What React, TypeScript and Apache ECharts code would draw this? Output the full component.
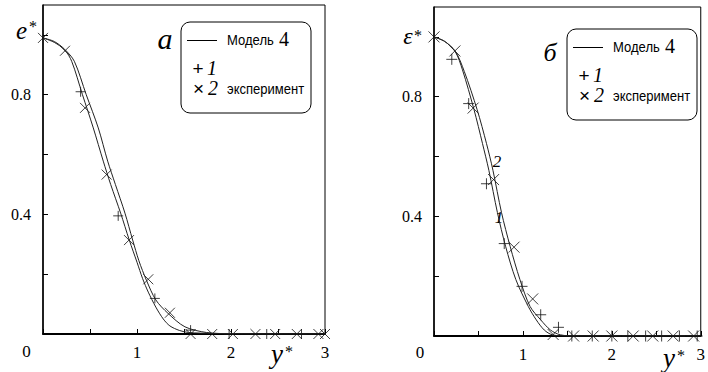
import React, { useEffect, useRef } from "react";
import * as echarts from "echarts";

// ---- Panel a (left) ----
const leftModel1X = [0, 0.12, 0.23, 0.305, 0.42, 0.535, 0.641, 0.72, 0.826, 0.918, 1.0, 1.06, 1.12, 1.2, 1.28, 1.35, 1.45, 1.55, 1.8, 2.2, 3.0];
const leftModel1Y = [0.99, 0.975, 0.95, 0.912, 0.8, 0.689, 0.578, 0.5, 0.404, 0.314, 0.24, 0.185, 0.14, 0.09, 0.05, 0.027, 0.012, 0.005, 0.002, 0, 0];
const leftModel2X = [0, 0.12, 0.23, 0.333, 0.46, 0.588, 0.688, 0.77, 0.872, 0.954, 1.02, 1.1, 1.2, 1.33, 1.51, 1.74, 2.0, 3.0];
const leftModel2Y = [0.99, 0.978, 0.952, 0.912, 0.8, 0.689, 0.578, 0.5, 0.404, 0.314, 0.245, 0.18, 0.114, 0.069, 0.024, 0.005, 0.001, 0];
const leftPlusX = [0.4, 0.8, 1.19, 1.57, 1.98, 2.38, 2.75];
const leftPlusY = [0.81, 0.395, 0.119, 0.013, 0, 0, 0];
const leftCrossX = [0, 0.234, 0.447, 0.677, 0.915, 1.12, 1.35, 1.57, 1.8, 2.02, 2.26, 2.47, 2.7, 2.93, 3.0];
const leftCrossY = [0.99, 0.947, 0.756, 0.533, 0.314, 0.183, 0.071, 0, 0, 0, 0, 0, 0, 0, 0];

// ---- Panel б (right) ----
const rightModel1X = [0, 0.12, 0.24, 0.32, 0.45, 0.545, 0.617, 0.713, 0.805, 0.92, 1.06, 1.15, 1.24, 1.33, 1.5, 3.0];
const rightModel1Y = [1.0, 0.985, 0.95, 0.89, 0.757, 0.644, 0.554, 0.413, 0.3, 0.189, 0.099, 0.054, 0.02, 0.004, 0, 0];
const rightModel2X = [0, 0.12, 0.24, 0.34, 0.485, 0.59, 0.663, 0.759, 0.856, 0.966, 1.08, 1.2, 1.31, 1.42, 1.6, 3.0];
const rightModel2Y = [1.0, 0.985, 0.952, 0.885, 0.757, 0.644, 0.554, 0.413, 0.3, 0.189, 0.099, 0.054, 0.02, 0.004, 0, 0];
const rightPlusX = [0.2, 0.39, 0.59, 0.79, 0.99, 1.2, 1.4, 1.55, 1.78, 2.0, 2.18, 2.38, 2.56, 2.76, 2.96];
const rightPlusY = [0.925, 0.777, 0.509, 0.309, 0.166, 0.071, 0.029, 0, 0, 0, 0, 0, 0, 0, 0];
const rightCrossX = [0, 0.235, 0.44, 0.67, 0.9, 1.11, 1.34, 1.57, 1.79, 2.0, 2.24, 2.46, 2.69, 2.92];
const rightCrossY = [1.0, 0.953, 0.762, 0.523, 0.297, 0.124, 0.005, 0, 0, 0, 0, 0, 0, 0];

const xTickLabels = ["1", "2", "3"];
const yTickLabels = ["0.4", "0.8"];

const SERIF = "Liberation Serif";
const SANS = "Liberation Sans";

const zip = (xs: number[], ys: number[]) => xs.map((x, i) => [x, ys[i]]);

const PLUS = "path://M5,0L5,10M0,5L10,5";
const CROSS = "path://M0,0L10,10M10,0L0,10";

function legendGroup(x: number, y: number) {
  return {
    type: "group",
    x,
    y,
    children: [
      { type: "rect", shape: { x: 0, y: 0, width: 130, height: 91, r: 9 }, style: { fill: "#fff", stroke: "#000", lineWidth: 1 } },
      { type: "line", shape: { x1: 6, y1: 18.5, x2: 36, y2: 18.5 }, style: { stroke: "#000", lineWidth: 1 } },
      { type: "text", x: 46, y: 18, scaleX: 0.87, style: { text: "Модель", fontFamily: SANS, fontSize: 15, fill: "#000", align: "left", verticalAlign: "middle" } },
      { type: "text", x: 98, y: 17, style: { text: "4", fontFamily: SERIF, fontSize: 20, fill: "#000", align: "left", verticalAlign: "middle" } },
      { type: "text", x: 17, y: 46, style: { text: "+", fontFamily: SANS, fontSize: 19, fill: "#000", align: "center", verticalAlign: "middle" } },
      { type: "text", x: 26, y: 46, style: { text: "1", fontFamily: SERIF, fontStyle: "italic", fontSize: 20, fill: "#000", align: "left", verticalAlign: "middle" } },
      { type: "text", x: 17.5, y: 66, style: { text: "×", fontFamily: SANS, fontSize: 19, fill: "#000", align: "center", verticalAlign: "middle" } },
      { type: "text", x: 27, y: 66, style: { text: "2", fontFamily: SERIF, fontStyle: "italic", fontSize: 20, fill: "#000", align: "left", verticalAlign: "middle" } },
      { type: "text", x: 46, y: 67, scaleX: 0.87, style: { text: "эксперимент", fontFamily: SANS, fontSize: 15, fill: "#000", align: "left", verticalAlign: "middle" } },
    ],
  };
}

function txt(text: string, x: number, y: number, size: number, opts: any = {}) {
  return {
    type: "text",
    x,
    y,
    style: {
      text,
      fontFamily: SERIF,
      fontSize: size,
      fill: "#000",
      align: opts.align || "left",
      verticalAlign: opts.va || "middle",
      fontStyle: opts.italic ? "italic" : "normal",
    },
  };
}

export default function App() {
  const ref = useRef<HTMLDivElement>(null);
  useEffect(() => {
    if (!ref.current) return;
    const chart = echarts.init(ref.current, undefined, { renderer: "svg" });
    const xAxisBase = (gridIndex: number) => ({
      type: "value",
      gridIndex,
      min: 0,
      max: 3,
      interval: 0.5,
      axisLine: { show: true, lineStyle: { color: "#000", width: 2 } },
      axisTick: { show: true, inside: true, length: 5, lineStyle: { color: "#000", width: 1 } },
      axisLabel: {
        show: true,
        margin: 10,
        fontFamily: SERIF,
        fontSize: 17,
        color: "#000",
        showMaxLabel: true,
        formatter: (v: number) => {
          const s = String(v);
          return xTickLabels.includes(s) ? s : "";
        },
      },
      splitLine: { show: false },
    });
    const yAxisBase = (gridIndex: number) => ({
      type: "value",
      gridIndex,
      min: 0,
      max: 1.1,
      interval: 0.2,
      axisLine: { show: true, lineStyle: { color: "#000", width: 1.5 } },
      axisTick: { show: true, inside: true, length: 5, lineStyle: { color: "#000", width: 1 } },
      axisLabel: {
        show: true,
        margin: 12,
        fontFamily: SERIF,
        fontSize: 16,
        color: "#000",
        showMaxLabel: false,
        formatter: (v: number) => {
          const s = (Math.round(v * 10) / 10).toFixed(1);
          return yTickLabels.includes(s) ? s : "";
        },
      },
      splitLine: { show: false },
    });
    const lineS = (xi: number, data: number[][]) => ({
      type: "line",
      xAxisIndex: xi,
      yAxisIndex: xi,
      data,
      symbol: "none",
      smooth: 0.3,
      lineStyle: { color: "#222", width: 1 },
      silent: true,
    });
    const scat = (xi: number, data: number[][], sym: string, size: number) => ({
      type: "scatter",
      xAxisIndex: xi,
      yAxisIndex: xi,
      data,
      symbol: sym,
      symbolSize: size,
      itemStyle: { color: "transparent", borderColor: "#111", borderWidth: 1 },
      silent: true,
    });

    chart.setOption({
      animation: false,
      backgroundColor: "#fff",
      grid: [
        { left: 43, top: 5, width: 282, height: 329, show: true, borderColor: "#000", borderWidth: 1, backgroundColor: "transparent" },
        { left: 434, top: 7, width: 280.5, height: 329, show: true, borderColor: "#000", borderWidth: 1, backgroundColor: "transparent" },
      ],
      xAxis: [xAxisBase(0), xAxisBase(1)],
      yAxis: [yAxisBase(0), yAxisBase(1)],
      series: [
        lineS(0, zip(leftModel1X, leftModel1Y)),
        lineS(0, zip(leftModel2X, leftModel2Y)),
        scat(0, zip(leftPlusX, leftPlusY), PLUS, 10),
        scat(0, zip(leftCrossX, leftCrossY), CROSS, 10),
        lineS(1, zip(rightModel1X, rightModel1Y)),
        lineS(1, zip(rightModel2X, rightModel2Y)),
        scat(1, zip(rightPlusX, rightPlusY), PLUS, 11),
        scat(1, zip(rightCrossX, rightCrossY), CROSS, 11),
      ],
      graphic: [
        legendGroup(181, 22),
        legendGroup(567, 29),
        txt("a", 165, 38, 30, { align: "center", italic: true }),
        txt("б", 550, 52, 26, { align: "center", italic: true }),
        // y-axis titles
        txt("e", 21.5, 30, 25, { align: "center", italic: true }),
        txt("*", 29, 18, 16, { va: "top" }),
        txt("ε", 408, 36, 24, { align: "center", italic: true }),
        txt("*", 414, 27, 16, { va: "top" }),
        // x-axis titles
        txt("y", 277, 354, 27, { align: "center", italic: true }),
        txt("*", 285, 343, 16, { va: "top" }),
        txt("y", 669, 358, 27, { align: "center", italic: true }),
        txt("*", 677, 347, 16, { va: "top" }),
        // origin labels
        txt("0", 26.5, 351, 17, { align: "center" }),
        txt("0", 420, 352, 17, { align: "center" }),
        // curve labels
        txt("2", 497, 161, 17, { align: "center", italic: true }),
        txt("1", 499, 217, 17, { align: "center", italic: true }),
      ],
    } as any);
    return () => chart.dispose();
  }, []);
  return <div ref={ref} style={{ position: "absolute", left: 0, top: 0, width: 708, height: 372 }} />;
}
